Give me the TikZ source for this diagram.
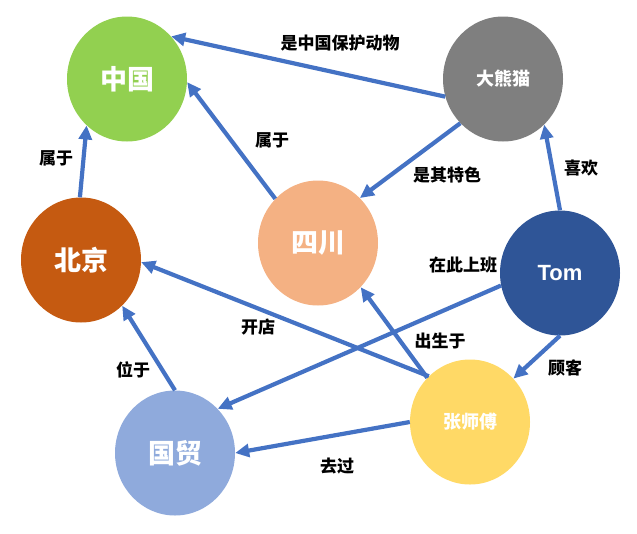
\documentclass[tikz,border=0pt]{standalone}
\usepackage{fontspec}
\setmainfont{Liberation Sans}
\newfontfamily\cjk{Noto Sans CJK SC}
\usetikzlibrary{shapes.geometric,arrows.meta}
\definecolor{cgreen}{RGB}{146,208,80}
\definecolor{cgray}{RGB}{127,127,127}
\definecolor{cbrown}{RGB}{197,90,17}
\definecolor{cpeach}{RGB}{244,177,131}
\definecolor{cnavy}{RGB}{47,85,151}
\definecolor{cyellow}{RGB}{255,217,102}
\definecolor{clblue}{RGB}{143,170,220}
\definecolor{carrow}{RGB}{68,114,196}
\tikzset{
  entity/.style={ellipse,inner sep=0pt,minimum width=120pt,minimum height=125pt,
    text=white,font=\cjk\bfseries\fontsize{27}{27}\selectfont},
  small/.style={font=\cjk\bfseries\fontsize{18}{18}\selectfont},
  rel/.style={font=\cjk\bfseries\fontsize{17}{17}\selectfont,inner sep=0pt},
  link/.style={draw=carrow,line width=4.2pt,-{Triangle[length=14pt,width=13pt]}}
}
\begin{document}
\begin{tikzpicture}[x=1pt,y=-1pt]
  \useasboundingbox (0,0) rectangle (637,533);
  \draw
    (127,79) node[entity,fill=cgreen] (zg){中国}
    (503,79) node[entity,fill=cgray,small] (xm){大熊猫}
    (81,260) node[entity,fill=cbrown] (bj){北京}
    (318,243) node[entity,fill=cpeach] (sc){四川}
    (560,273) node[entity,fill=cnavy,font=\bfseries\fontsize{22}{22}\selectfont] (tom){Tom}
    (470,422) node[entity,fill=cyellow,small] (zsf){张师傅}
    (175,453) node[entity,fill=clblue] (gm){国贸};
  \begin{scope}[link]
    \draw (xm.197) to (zg.44);
    \draw (sc.134) to (zg.357);
    \draw (bj.91) to (zg.229);
    \draw (xm.226) to (sc.47);
    \draw (tom.90) to (xm.312);
    \draw (tom.192) to (gm.46);
    \draw (zsf.132) to (bj.358);
    \draw (zsf.134) to (sc.314);
    \draw (tom.270) to (zsf.45);
    \draw (gm.90) to (bj.312);
    \draw (zsf.180) to (gm.0);
  \end{scope}
  \draw
    (340,43) node[rel] (l1){是中国保护动物}
    (272,140) node[rel] (l2){属于}
    (56,158) node[rel] (l3){属于}
    (447,175) node[rel] (l4){是其特色}
    (581,168) node[rel] (l5){喜欢}
    (463,265) node[rel] (l6){在此上班}
    (258,327) node[rel] (l7){开店}
    (440,341) node[rel] (l8){出生于}
    (565,368) node[rel] (l9){顾客}
    (133,370) node[rel] (l10){位于}
    (337,466) node[rel] (l11){去过};
\end{tikzpicture}
\end{document}
